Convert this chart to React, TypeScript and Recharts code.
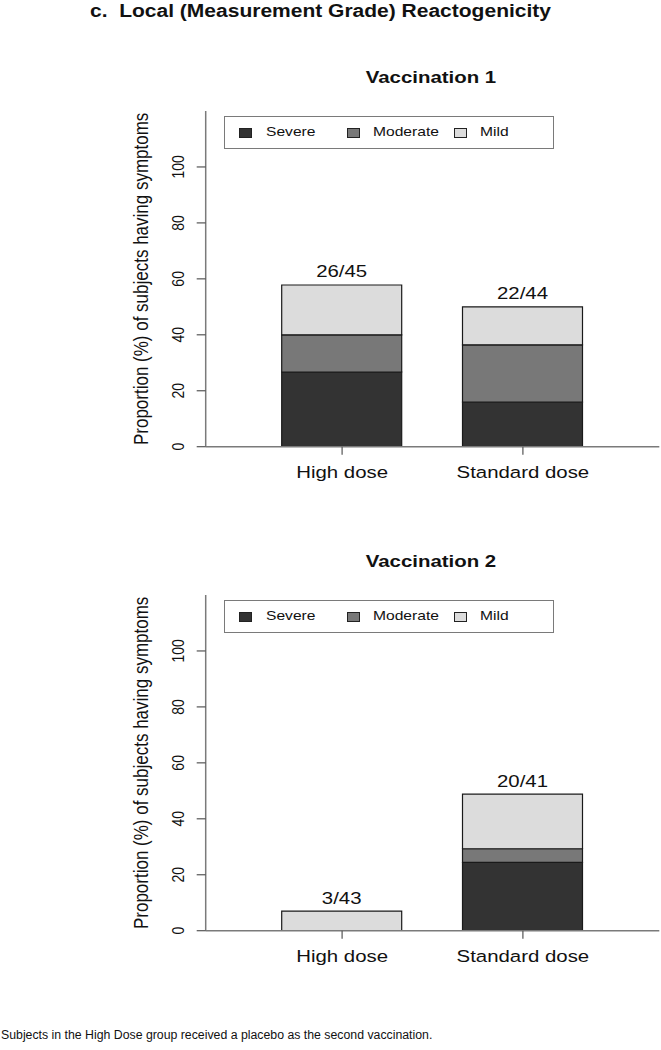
import React from 'react';
import { BarChart, Bar, XAxis, YAxis, Legend, LabelList } from 'recharts';

const FONT = "'Liberation Sans', Arial, Helvetica, sans-serif";

const mainTitle = 'c.  Local (Measurement Grade) Reactogenicity';
const footnote = 'Subjects in the High Dose group received a placebo as the second vaccination.';
const yLabel = 'Proportion (%) of subjects having symptoms';

const categories = ['High dose', 'Standard dose'];
const seriesNames = ['Severe', 'Moderate', 'Mild'];
const seriesKeys = ['severe', 'moderate', 'mild'];
const seriesColors = ['#333333', '#787878', '#dcdcdc'];
const yTicks = [0, 20, 40, 60, 80, 100];
const yDomain = [0, 120];

const v1Title = 'Vaccination 1';
const v1Severe = [26.7, 15.9];
const v1Moderate = [13.3, 20.5];
const v1Mild = [17.8, 13.6];
const v1Labels = ['26/45', '22/44'];

const v2Title = 'Vaccination 2';
const v2Severe = [0, 24.4];
const v2Moderate = [0, 4.9];
const v2Mild = [7.0, 19.5];
const v2Labels = ['3/43', '20/41'];

const FRAME = '#7a7a7a';
const TICK = '#555555';
const legendOffsets = [
  { sq: 14, tx: 41 },
  { sq: 122, tx: 148 },
  { sq: 229, tx: 255 },
];

const renderLegend = () => (
  <div
    style={{
      position: 'relative',
      width: 330,
      height: 33,
      border: `1.5px solid ${FRAME}`,
      boxSizing: 'border-box',
      background: '#fff',
      fontFamily: FONT,
    }}
  >
    {seriesNames.map((n, i) => (
      <React.Fragment key={n}>
        <div
          style={{
            position: 'absolute',
            left: legendOffsets[i].sq,
            top: 11,
            width: 11,
            height: 8,
            background: seriesColors[i],
            border: '1px solid #222',
          }}
        />
        <div
          style={{
            position: 'absolute',
            left: legendOffsets[i].tx,
            top: 7,
            fontSize: 13,
            lineHeight: '16px',
            color: '#111',
            whiteSpace: 'nowrap',
            transform: 'scaleX(1.2)',
            transformOrigin: 'left center',
          }}
        >
          {n}
        </div>
      </React.Fragment>
    ))}
  </div>
);

const renderYLabel = (p: any) => {
  const vb = p.viewBox || { x: 0, y: 0, width: 0, height: 0 };
  const cx = vb.x + 20.5;
  const cy = vb.y + vb.height / 2;
  return (
    <g transform={`translate(${cx} ${cy}) scale(1.2 1) rotate(-90)`}>
      <text x={0} y={0} textAnchor="middle" dominantBaseline="central" fontSize={17} fontFamily={FONT} fill="#111">
        {yLabel}
      </text>
    </g>
  );
};

const renderYTick = (p: any) => (
  <g transform={`translate(${p.x - 16.7} ${p.y}) scale(1.2 1) rotate(-90)`}>
    <text x={0} y={0} textAnchor="middle" dominantBaseline="central" fontSize={14} fontFamily={FONT} fill="#111">
      {p.payload.value}
    </text>
  </g>
);

const renderXTick = (p: any) => (
  <g transform={`translate(${p.x} ${p.y + 15}) scale(1.2 1)`}>
    <text x={0} y={0} textAnchor="middle" dominantBaseline="central" fontSize={17} fontFamily={FONT} fill="#111">
      {p.payload.value}
    </text>
  </g>
);

const renderBarLabel = (p: any) => {
  const cx = p.x + p.width / 2;
  const cy = p.y - 13.5;
  return (
    <g transform={`translate(${cx} ${cy}) scale(1.2 1)`}>
      <text x={0} y={0} textAnchor="middle" dominantBaseline="central" fontSize={17} fontFamily={FONT} fill="#111">
        {p.value}
      </text>
    </g>
  );
};

type PanelProps = {
  top: number;
  title: string;
  severe: number[];
  moderate: number[];
  mild: number[];
  labels: string[];
};

const Panel = ({ top, title, severe, moderate, mild, labels }: PanelProps) => {
  const data = categories.map((name, i) => ({
    name,
    severe: severe[i],
    moderate: moderate[i],
    mild: mild[i],
    label: labels[i],
  }));
  const pad = { left: 46, right: 46 };
  return (
    <div style={{ position: 'absolute', left: 0, top, width: 661, height: 450 }}>
      <BarChart
        width={661}
        height={450}
        data={data}
        margin={{ top: 61, right: 1.7, bottom: 23.3, left: 120 }}
        barSize={120}
      >
        <XAxis
          dataKey="name"
          height={30}
          tickSize={8}
          tickLine={{ stroke: TICK, strokeWidth: 1.2 }}
          axisLine={{ stroke: FRAME, strokeWidth: 1.5 }}
          tick={renderXTick}
          padding={pad}
          interval={0}
        />
        <XAxis
          xAxisId="top"
          orientation="top"
          dataKey="name"
          height={0}
          tick={false}
          tickLine={false}
          axisLine={{ stroke: FRAME, strokeWidth: 1.5 }}
          padding={pad}
        />
        <YAxis
          width={85.7}
          domain={yDomain}
          ticks={yTicks}
          allowDataOverflow
          tickSize={9}
          tickLine={{ stroke: TICK, strokeWidth: 1.2 }}
          axisLine={{ stroke: FRAME, strokeWidth: 1.5 }}
          tick={renderYTick}
          label={{ value: yLabel, content: renderYLabel }}
        />
        <YAxis
          yAxisId="right"
          orientation="right"
          width={0}
          domain={yDomain}
          tick={false}
          tickLine={false}
          axisLine={{ stroke: FRAME, strokeWidth: 1.5 }}
        />
        <Legend
          layout="horizontal"
          verticalAlign="middle"
          align="center"
          content={renderLegend}
          wrapperStyle={{ left: 224.3, top: 66, width: 330, height: 33 }}
        />
        {seriesKeys.map((k, i) => (
          <Bar
            key={k}
            dataKey={k}
            name={seriesNames[i]}
            stackId="a"
            fill={seriesColors[i]}
            stroke="#1a1a1a"
            strokeWidth={1.2}
            isAnimationActive={false}
          >
            {k === 'mild' ? <LabelList dataKey="label" content={renderBarLabel} /> : null}
          </Bar>
        ))}
      </BarChart>
      <div
        style={{
          position: 'absolute',
          left: 431,
          top: 18,
          fontFamily: FONT,
          fontWeight: 'bold',
          fontSize: 17,
          lineHeight: '20px',
          color: '#111',
          whiteSpace: 'nowrap',
          transform: 'translateX(-50%) scaleX(1.2)',
        }}
      >
        {title}
      </div>
    </div>
  );
}

export default function App() {
  return (
    <div style={{ position: 'absolute', left: 0, top: 0, width: 661, height: 1050, background: '#fff', overflow: 'hidden' }}>
      <div
        style={{
          position: 'absolute',
          left: 90,
          top: 0,
          fontFamily: FONT,
          fontWeight: 'bold',
          fontSize: 17.5,
          lineHeight: '22px',
          color: '#111',
          whiteSpace: 'pre',
          transform: 'scaleX(1.2)',
          transformOrigin: 'left center',
        }}
      >
        {mainTitle}
      </div>
      <Panel top={50} title={v1Title} severe={v1Severe} moderate={v1Moderate} mild={v1Mild} labels={v1Labels} />
      <Panel top={534} title={v2Title} severe={v2Severe} moderate={v2Moderate} mild={v2Mild} labels={v2Labels} />
      <div
        style={{
          position: 'absolute',
          left: 1,
          top: 1027,
          fontFamily: FONT,
          fontSize: 12.3,
          lineHeight: '16px',
          color: '#111',
          whiteSpace: 'nowrap',
        }}
      >
        {footnote}
      </div>
    </div>
  );
}
